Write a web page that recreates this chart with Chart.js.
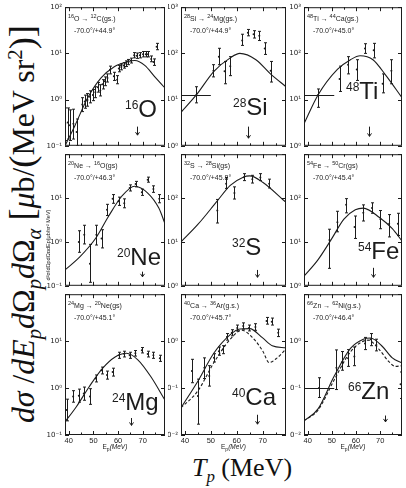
<!DOCTYPE html>
<html>
<head>
<meta charset="utf-8">
<script src="https://cdn.jsdelivr.net/npm/chart.js@4.4.1/dist/chart.umd.min.js"></script>
<style>
  html, body { margin: 0; padding: 0; background: #fff; }
  #fig { position: relative; width: 406px; height: 488px; overflow: hidden; background: #fff; }
  #fig canvas { position: absolute; }
  .ttl { position: absolute; white-space: nowrap; font-family: 'Liberation Serif', 'DejaVu Serif', serif; color: #111; line-height: 1; }
  #ylab { left: 22px; top: 224px; font-size: 28px; transform: translate(-50%, -50%) rotate(-90deg); }
  #xlab { left: 242px; top: 455px; font-size: 26px; transform: translateX(-50%); }
  .ttl sub, .ttl sup { font-size: 65%; line-height: 0; }
  .big { font-size: 115%; }
</style>
</head>
<body>
<div id="fig">
  <div class="ttl" id="ylab"><i>dσ</i> /<i>dE<sub>p</sub>d</i>Ω<sub><i>p</i></sub><i>d</i>Ω<sub><i>α</i></sub> <span class="big">[</span><i>μ</i>b/<span class="big">(</span>MeV sr<sup>2</sup><span class="big">)]</span></div>
  <div class="ttl" id="xlab"><i>T<sub>p</sub></i> (MeV)</div>
</div>
<script>
const INK = '#1c1c1c';
const SANS = "'Liberation Sans', Arial, sans-serif";

// energy axis (MeV) and tick labels
const E_MIN = 38.5, E_MAX = 79;
const xTickVals = [40, 50, 60, 70];

// 16O -> 12C
const oE  = [38.6, 39.6, 40.5, 41.9, 43.2, 45.5, 46.5, 47.6, 48.6, 49.8, 50.8, 51.8, 52.8, 53.7, 54.6, 55.7, 56.7, 58.3, 59.6, 60.3, 61.3, 62.2, 63.3, 64.2, 65.2, 66.5, 67.5, 68.8, 70.1, 71.2, 72.1, 73.4, 74.4, 75.6];
const oY  = [0.30, 0.32, 0.28, 0.30, 0.20, 0.78, 0.91, 0.98, 1.15, 1.25, 1.45, 1.85, 1.58, 2.14, 2.5, 2.95, 4.4, 3.2, 2.7, 4.7, 5.1, 5.5, 6.0, 6.5, 7.0, 9.1, 8.9, 9.1, 9.6, 9.6, 9.6, 7.6, 6.5, 14];
const oLo = [0.13, 0.14, 0.13, 0.14, 0.10, 0.55, 0.65, 0.72, 0.85, 0.95, 1.1, 1.45, 1.2, 1.7, 2.0, 2.4, 3.6, 2.6, 2.2, 4.0, 4.4, 4.8, 5.2, 5.7, 6.2, 8.0, 7.8, 8.0, 8.4, 8.4, 8.4, 6.6, 5.5, 12];
const oHi = [0.66, 0.66, 0.60, 0.62, 0.38, 1.1, 1.25, 1.35, 1.55, 1.65, 1.9, 2.35, 2.1, 2.7, 3.1, 3.6, 5.3, 3.9, 3.3, 5.5, 5.9, 6.3, 6.9, 7.4, 7.9, 10.4, 10.2, 10.4, 11, 11, 11, 8.8, 7.6, 16.5];
const oCE = [38.5, 42.6, 47.6, 53.1, 58.3, 63.6, 66.8, 70.8, 74.7, 78.7];
const oCY = [0.10, 0.28, 1.07, 2.95, 5.1, 6.6, 7.0, 5.5, 3.2, 1.85];

// 28Si -> 24Mg
const siE  = [44.4, 51.0, 53.1, 55.3, 57.5, 62.1, 64.3, 66.5, 68.7, 70.8, 73.1];
const siY  = [12.6, 42, 85, 41, 53, 190, 280, 260, 240, 127, 42];
const siLo = [8.5, 31, 57, 22, 33, 149, 240, 215, 190, 95, 24];
const siHi = [19, 57, 129, 67, 85, 260, 330, 310, 300, 170, 67];
const siXBar = [38.5, 50];
const siCE = [38.5, 44.4, 51.2, 57.5, 61.2, 67.4, 73, 79];
const siCY = [5.3, 12.6, 41, 80, 100, 73, 36, 19];

// 48Ti -> 44Ca
const tiE  = [44.3, 53.2, 56.7, 60.3, 63.7, 67.3, 71.0, 74.6];
const tiY  = [12.6, 28, 57, 45, 127, 117, 22, 42];
const tiLo = [6.8, 15, 36, 26, 100, 80, 14, 22];
const tiHi = [17, 53, 85, 73, 162, 165, 36, 73];
const tiXBar = [38.5, 51];
const tiCE = [38.5, 44.3, 52.3, 57.7, 61.7, 67, 72.4, 79];
const tiCY = [3, 12.6, 45, 73, 89, 73, 33, 11];

// 20Ne -> 16O
const neE  = [44.1, 46.3, 48.6, 51.2, 53.3, 55.5, 57.8, 60.2, 62.5, 64.7, 67.1, 69.6, 72.0, 74.3, 76.7];
const neY  = [1.0, 1.45, 0.32, 1.45, 1.2, 5.4, 9.6, 8.5, 7.6, 17, 21, 13.5, 26, 16, 9.6];
const neLo = [0.58, 0.9, 0.12, 0.85, 0.73, 4.0, 7.6, 6.8, 6.0, 14.5, 18, 11.5, 23, 13.5, 7.8];
const neHi = [1.8, 2.4, 0.88, 2.4, 1.9, 7.2, 12, 10.5, 9.6, 20, 24, 16, 30, 19, 12];
const neCE = [38.5, 44.4, 51.0, 56.2, 61.5, 66.7, 72.0, 76.5, 79];
const neCY = [0.23, 0.45, 1.23, 3.9, 11, 18.6, 13, 5.9, 2.6];

// 32S -> 28Si
const sE  = [52.5, 55.9, 59.1, 62.8, 66.0, 69.1, 72.5];
const sY  = [52, 213, 130, 300, 270, 295, 213];
const sLo = [27, 166, 95, 250, 220, 250, 170];
const sHi = [93, 295, 180, 360, 330, 360, 270];
const sCE = [38.5, 45, 52.5, 57.5, 62.5, 65, 70, 79];
const sCY = [10, 25, 86, 195, 300, 320, 230, 80];

// 54Fe -> 50Cr
const feE  = [49.0, 52.3, 55.9, 59.4, 63.0, 66.6, 70.1, 73.7, 77.3];
const feY  = [11, 28, 70, 22, 46, 59, 33, 26, 26];
const feLo = [2.5, 17, 46, 12, 30, 45, 20, 13, 14];
const feHi = [19.5, 50, 97, 39, 70, 78, 52, 42, 45];
const feCE = [38.5, 44.1, 49.6, 55, 59.7, 63, 69.7, 75, 79];
const feCY = [1.66, 3.8, 11, 33, 54, 59, 36, 20, 10.5];

// 24Mg -> 20Ne
const mgE  = [39.2, 41.8, 44.1, 46.1, 48.6, 51.0, 53.3, 55.5, 57.8, 60.4, 62.5, 64.7, 67.0, 69.6, 72.0, 74.3, 76.9];
const mgY  = [0.34, 0.66, 0.69, 0.77, 0.66, 1.6, 2.4, 1.9, 2.2, 5.0, 5.3, 5.0, 5.5, 6.4, 5.3, 5.0, 4.3];
const mgLo = [0.2, 0.5, 0.5, 0.55, 0.45, 1.35, 2.0, 1.55, 1.8, 4.3, 4.6, 4.3, 4.8, 5.6, 4.6, 4.3, 3.7];
const mgHi = [0.58, 0.88, 0.95, 1.05, 0.97, 1.9, 2.8, 2.3, 2.65, 5.8, 6.1, 5.8, 6.3, 7.3, 6.1, 5.8, 5.0];
const mgCE = [38.5, 43.1, 48.3, 53.6, 58.8, 63.4, 68, 73.3, 79];
const mgCY = [0.19, 0.4, 1.07, 2.6, 4.6, 5.5, 4.0, 1.74, 0.55];

// 40Ca -> 36Ar
const caE  = [42.7, 45.0, 47.5, 49.4, 51.2, 53.1, 54.7, 56.2, 58.1, 60.2, 62.5, 64.7, 67.2, 71.5, 73.5, 76.0];
const caY  = [0.23, 0.068, 0.27, 0.18, 0.44, 0.61, 0.66, 1.23, 1.5, 1.9, 2.1, 1.9, 2.0, 2.7, 2.6, 1.5];
const caLo = [0.13, 0.017, 0.16, 0.11, 0.36, 0.5, 0.54, 1.05, 1.3, 1.65, 1.8, 1.65, 1.7, 2.3, 2.2, 1.25];
const caHi = [0.41, 0.155, 0.44, 0.3, 0.54, 0.75, 0.8, 1.45, 1.75, 2.2, 2.45, 2.2, 2.35, 3.2, 3.1, 1.8];
const caCE = [38.5, 45, 51.2, 57.5, 61.2, 65, 70, 73.7, 79];
const caCY = [0.038, 0.14, 0.56, 1.38, 1.82, 1.85, 1.17, 0.8, 0.72];
const caDE = [38.5, 45, 51.2, 57.5, 61.9, 66.2, 70, 72.5, 75.6, 79];
const caDY = [0.038, 0.087, 0.35, 1.1, 1.7, 1.17, 0.62, 0.35, 0.44, 0.68];

// 66Zn -> 62Ni
const znE  = [44.7, 51.9, 54.3, 56.7, 59.3, 63.7, 66.0, 68.4, 78.4];
const znY  = [0.1, 0.27, 0.36, 0.43, 0.47, 0.89, 1.1, 0.83, 0.12];
const znLo = [0.063, 0.093, 0.24, 0.29, 0.3, 0.66, 0.8, 0.62, 0.06];
const znHi = [0.166, 0.65, 0.6, 0.66, 0.75, 1.2, 1.45, 1.1, 0.22];
const znXBar = [38.5, 51];
const znCE = [38.5, 44.3, 51, 57.7, 63, 66, 71, 75, 79];
const znCY = [0.02, 0.036, 0.18, 0.7, 1.1, 1.17, 0.76, 0.44, 0.34];
const znDE = [38.5, 44.3, 51, 57.7, 65, 69.7, 73.7, 76.3, 79];
const znDY = [0.02, 0.034, 0.15, 0.59, 1.05, 0.65, 0.36, 0.29, 0.3];

// arrows (one per panel)
const arrowE   = [67.5, 64.3, 65.4, 69.7, 67.7, 67.0, 65.4, 67.7, 72.0];
const arrowTop = [0.26, 2.6, 2.6, 0.21, 2.3, 2.57, 0.23, 0.027, 0.026];
const arrowBot = [0.17, 1.46, 1.6, 0.16, 1.56, 1.56, 0.16, 0.017, 0.019];

// texts
const nuclei = ['^16O', '^28Si', '^48Ti', '^20Ne', '^32S', '^54Fe', '^24Mg', '^40Ca', '^66Zn'];
const reactions = ['^16O \u2192 ^12C(gs.)', '^28Si \u2192 ^24Mg(gs.)', '^48Ti \u2192 ^44Ca(gs.)',
                   '^20Ne \u2192 ^16O(gs)', '^32S \u2192 ^28Si(gs)', '^54Fe \u2192 ^50Cr(gs)',
                   '^24Mg \u2192 ^20Ne(gs)', '^40Ca \u2192 ^36Ar(g.s.)', '^66Zn \u2192 ^62Ni(g.s.)'];
const angles = ['-70.0\u00b0/+44.9\u00b0', '-70.0\u00b0/+44.9\u00b0', '-70.0\u00b0/+45.0\u00b0',
                '-70.0\u00b0/+46.3\u00b0', '-70.0\u00b0/+45.8\u00b0', '-70.0\u00b0/+45.4\u00b0',
                '-70.0\u00b0/+45.1\u00b0', '-70.0\u00b0/+45.7\u00b0', '-70.0\u00b0/+46.4\u00b0'];

const panels = [
  {E: oE,  Y: oY,  lo: oLo,  hi: oHi,  curves: [[oCE, oCY]], yr: [-1, 2]},
  {E: siE, Y: siY, lo: siLo, hi: siHi, curves: [[siCE, siCY]], yr: [0, 3], xbar: siXBar},
  {E: tiE, Y: tiY, lo: tiLo, hi: tiHi, curves: [[tiCE, tiCY]], yr: [0, 3], xbar: tiXBar},
  {E: neE, Y: neY, lo: neLo, hi: neHi, curves: [[neCE, neCY]], yr: [-1, 2]},
  {E: sE,  Y: sY,  lo: sLo,  hi: sHi,  curves: [[sCE, sCY]], yr: [0, 3]},
  {E: feE, Y: feY, lo: feLo, hi: feHi, curves: [[feCE, feCY]], yr: [0, 3]},
  {E: mgE, Y: mgY, lo: mgLo, hi: mgHi, curves: [[mgCE, mgCY]], yr: [-1, 2]},
  {E: caE, Y: caY, lo: caLo, hi: caHi, curves: [[caCE, caCY], [caDE, caDY, true]], yr: [-2, 1]},
  {E: znE, Y: znY, lo: znLo, hi: znHi, curves: [[znCE, znCY], [znDE, znDY, true]], yr: [-2, 1], xbar: znXBar}
];

// layout of the 3x3 grid (page pixels)
const cols = [{left: 40, yw: 25, w: 103}, {left: 168, yw: 13, w: 108}, {left: 290, yw: 14, w: 101}];
const rows = [{top: 0, pad: 5, h: 147, xh: 0}, {top: 147, pad: 5, h: 140, xh: 0}, {top: 287, pad: 5, h: 143, xh: 20}];
const labelAt = [[60, 110], [52, 108], [42, 92], [52, 111], [51, 101], [54, 105], [47, 116], [51, 111], [44, 105]];

const SUP = {'-': '\u207b', '0': '\u2070', '1': '\u00b9', '2': '\u00b2', '3': '\u00b3'};
const pow10 = k => '10' + String(k).split('').map(c => SUP[c]).join('');

function rich(ctx, str, x, y, size, supSize, rise) {
  str.split(/(\^\d+)/).forEach(t => {
    if (!t) return;
    const sup = t[0] === '^';
    const s = sup ? t.slice(1) : t;
    ctx.font = (sup ? supSize : size) + 'px ' + SANS;
    ctx.fillText(s, x, sup ? y - rise : y);
    x += ctx.measureText(s).width;
  });
}

const decor = {
  id: 'decor',
  afterDatasetsDraw(chart, args, o) {
    const {ctx, chartArea: a, scales: {x, y}} = chart;
    const i = o.idx, p = panels[i];
    const seg = (x1, y1, x2, y2) => { ctx.beginPath(); ctx.moveTo(x1, y1); ctx.lineTo(x2, y2); ctx.stroke(); };
    ctx.save();
    ctx.beginPath(); ctx.rect(a.left, a.top, a.right - a.left, a.bottom - a.top); ctx.clip();
    ctx.strokeStyle = INK; ctx.lineWidth = 1;
    p.E.forEach((e, k) => {
      const px = Math.round(x.getPixelForValue(e)) + 0.5;
      const y1 = y.getPixelForValue(p.lo[k]), y2 = y.getPixelForValue(p.hi[k]);
      seg(px, y1, px, y2); seg(px - 1.5, y1, px + 1.5, y1); seg(px - 1.5, y2, px + 1.5, y2);
    });
    if (p.xbar) {
      const py = Math.round(y.getPixelForValue(p.Y[0])) + 0.5;
      seg(x.getPixelForValue(p.xbar[0]), py, x.getPixelForValue(p.xbar[1]), py);
    }
    const ax = Math.round(x.getPixelForValue(arrowE[i])) + 0.5;
    const at = y.getPixelForValue(arrowTop[i]), ab = y.getPixelForValue(arrowBot[i]);
    seg(ax, at, ax, ab);
    ctx.beginPath(); ctx.moveTo(ax - 2, ab - 3); ctx.lineTo(ax, ab); ctx.lineTo(ax + 2, ab - 3); ctx.stroke();
    ctx.restore();
  },
  afterDraw(chart, args, o) {
    const {ctx, chartArea: a, scales: {x, y}} = chart;
    const i = o.idx, p = panels[i];
    const seg = (x1, y1, x2, y2) => { ctx.beginPath(); ctx.moveTo(x1, y1); ctx.lineTo(x2, y2); ctx.stroke(); };
    ctx.save();
    ctx.strokeStyle = INK; ctx.lineWidth = 1;
    ctx.strokeRect(a.left + 0.5, a.top + 0.5, a.right - a.left - 1, a.bottom - a.top - 1);
    for (let e = 40; e <= 75; e += 5) {
      const px = Math.round(x.getPixelForValue(e)) + 0.5, len = e % 10 === 0 ? 4 : 2.5;
      seg(px, a.bottom, px, a.bottom - len); seg(px, a.top, px, a.top + len);
    }
    for (let k = p.yr[0]; k <= p.yr[1]; k++) {
      const py = Math.round(y.getPixelForValue(Math.pow(10, k))) + 0.5;
      seg(a.left, py, a.left + 4, py); seg(a.right, py, a.right - 4, py);
    }
    ctx.fillStyle = INK; ctx.textAlign = 'left'; ctx.textBaseline = 'alphabetic';
    rich(ctx, reactions[i], a.left + 3, a.top + 14, 7, 5.5, 3);
    ctx.font = '7px ' + SANS;
    ctx.fillText(angles[i], a.left + 9, a.top + 26);
    rich(ctx, nuclei[i], a.left + labelAt[i][0], a.top + labelAt[i][1], 24, 12, 8.6);
    if (chart.scales.x.height > 0) {
      const cx = (a.left + a.right) / 2, by = a.bottom + 14;
      ctx.font = '6.5px ' + SANS;
      const w = ctx.measureText('E').width + ctx.measureText('p').width * 0.8 + ctx.measureText('(MeV)').width;
      let tx = cx - w / 2;
      ctx.fillText('E', tx, by); tx += ctx.measureText('E').width;
      ctx.font = '5px ' + SANS; ctx.fillText('p', tx, by + 1.5); tx += ctx.measureText('p').width;
      ctx.font = 'italic 6.5px ' + SANS; ctx.fillText('(MeV)', tx, by);
    }
    if (i === 3) {
      ctx.translate(10, 98); ctx.rotate(-Math.PI / 2);
      ctx.textAlign = 'center'; ctx.font = '5.5px ' + SANS;
      ctx.fillText('d\u00b2\u03c3/d\u03a9pd\u03a9\u03b1dEp(\u03bcb/sr\u00b2 MeV)', 0, 0);
    }
    ctx.restore();
  }
};

const fig = document.getElementById('fig');
panels.forEach((p, idx) => {
  const c = cols[idx % 3], r = rows[Math.floor(idx / 3)];
  const W = c.yw + c.w + 1, H = r.pad + r.h + r.xh + 1;
  const cv = document.createElement('canvas');
  cv.width = W; cv.height = H;
  cv.style.left = c.left + 'px'; cv.style.top = r.top + 'px';
  cv.style.width = W + 'px'; cv.style.height = H + 'px';
  fig.appendChild(cv);

  const datasets = [{
    data: p.E.map((e, k) => ({x: e, y: p.Y[k]})),
    showLine: false, pointRadius: 1, pointBackgroundColor: INK, pointBorderWidth: 0
  }];
  p.curves.forEach(([ce, cy, dashed]) => datasets.push({
    data: ce.map((e, k) => ({x: e, y: cy[k]})),
    showLine: true, pointRadius: 0, borderColor: INK, borderWidth: 1.1,
    borderDash: dashed ? [3, 2] : [], cubicInterpolationMode: 'monotone'
  }));

  const lastLabel = idx < 3 ? p.yr[1] : p.yr[1] - 1;
  new Chart(cv, {
    type: 'scatter',
    data: {datasets},
    options: {
      responsive: false, animation: false, devicePixelRatio: 1, events: [],
      layout: {padding: {top: r.pad, right: 1, bottom: 1, left: 0}},
      plugins: {legend: {display: false}, tooltip: {enabled: false}, decor: {idx}},
      scales: {
        x: {
          type: 'linear', min: E_MIN, max: E_MAX,
          grid: {display: false, drawTicks: false}, border: {display: false},
          ticks: {display: r.xh > 0, padding: 1, color: INK, autoSkip: false, maxRotation: 0, font: {size: 7.5, family: SANS}},
          afterBuildTicks: s => { s.ticks = xTickVals.map(v => ({value: v})); },
          afterFit: s => { s.height = r.xh; }
        },
        y: {
          type: 'logarithmic', min: Math.pow(10, p.yr[0]), max: Math.pow(10, p.yr[1]),
          grid: {display: false, drawTicks: false}, border: {display: false},
          ticks: {padding: 3, color: INK, autoSkip: false, font: {size: 7, family: "'DejaVu Sans', sans-serif"},
                  callback: v => pow10(Math.round(Math.log10(v)))},
          afterBuildTicks: s => {
            const t = [];
            for (let k = p.yr[0]; k <= lastLabel; k++) t.push({value: Math.pow(10, k)});
            s.ticks = t;
          },
          afterFit: s => { s.width = c.yw; }
        }
      }
    },
    plugins: [decor]
  });
});

const yl = document.getElementById('ylab');
yl.style.fontSize = (28 * 398 / yl.offsetWidth) + 'px';
</script>
</body>
</html>
